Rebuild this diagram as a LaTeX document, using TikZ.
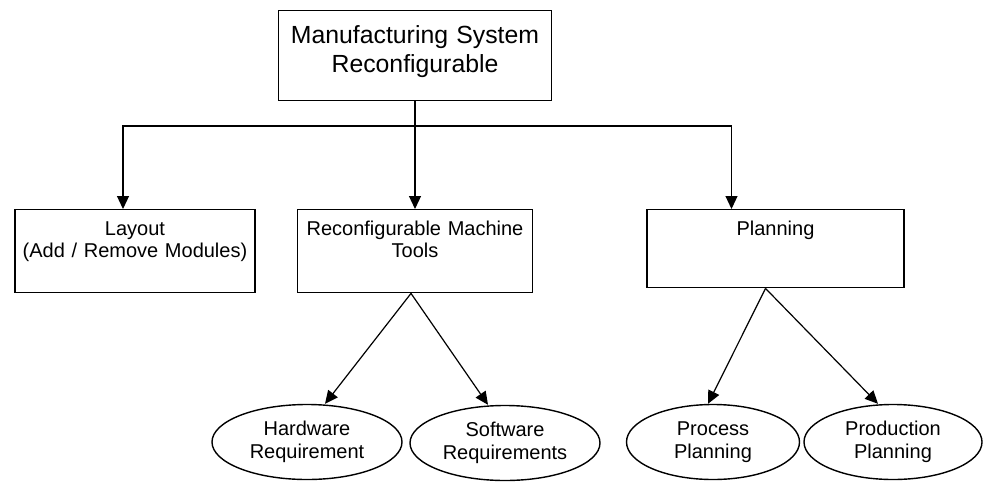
\documentclass[tikz,border=0pt]{standalone}
\usepackage{fontspec}
\setmainfont{Liberation Sans}
\usetikzlibrary{arrows.meta}
\usetikzlibrary{shapes.geometric}

\begin{document}
\begin{tikzpicture}[x=0.5pt, y=-0.5pt]
	\useasboundingbox (0,0) rectangle (984,482);
	\begin{scope}[every node/.style={rectangle, draw, line width=0.7pt, anchor=north, inner xsep=0pt, inner ysep=5.5pt, align=center, font=\fontsize{10}{11}\selectfont, text height=7.2pt}]
		\node[text width=136.5pt, inner ysep=7.5pt, text height=8.9pt, text depth=21.1pt, font=\fontsize{12.4}{14.5}\selectfont] (1) at (415,10) {Manufacturing System\\Reconfigurable};
		\node[text width=120pt, text depth=23.3pt] (2) at (135,209) {Layout\\(Add / Remove Modules)};
		\node[text width=117.5pt, text depth=23.3pt] (3) at (415,209) {Reconfigurable Machine\\Tools};
		\node[text width=128.5pt, text depth=20.8pt] (4) at (775.5,209) {Planning};
	\end{scope}

	\begin{scope}[every node/.style={ellipse, draw, line width=0.7pt, inner sep=0pt, minimum height=37.5pt, align=center, font=\fontsize{10}{11.5}\selectfont}]
		\node[minimum width=95pt] (5) at (307,442) {Hardware\\Requirement};
		\node[minimum width=95pt] (6) at (505,443) {Software\\Requirements};
		\node[minimum width=86.5pt] (7) at (713,442) {Process\\Planning};
		\node[minimum width=89pt] (8) at (893,442) {Production\\Planning};
	\end{scope}

	\coordinate (j) at (415,126);

	\begin{scope}[>={Triangle[length=6.5pt,width=6pt]}, line width=0.6pt]
		\draw (1) -- (j);
		\draw[->] (j) -| ([xshift=-6pt]2.north);
		\draw[->] (j) -| ([xshift=-22pt]4.north);
		\path (j) edge[->] (3);
		\path ([xshift=-2pt]3.south) edge[->] ([xshift=9pt]5.north);
		\path ([xshift=-2pt]3.south) edge[->] ([xshift=-8.5pt]6.north);
		\path ([xshift=-5pt]4.south) edge[->] ([xshift=-2.5pt]7.north);
		\path ([xshift=-5pt]4.south) edge[->] ([xshift=-7.5pt]8.north);
	\end{scope}
\end{tikzpicture}
\end{document}
